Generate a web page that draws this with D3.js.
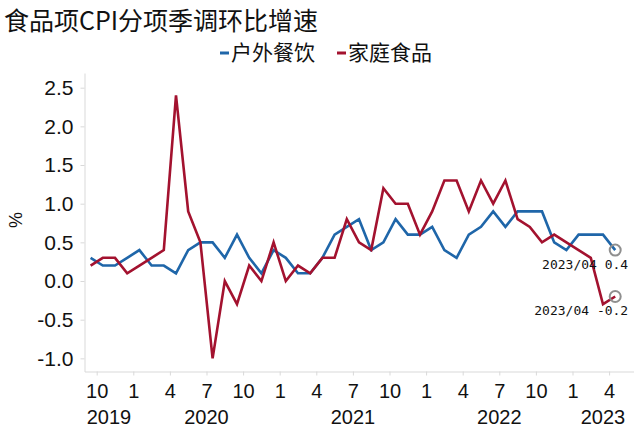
<!DOCTYPE html>
<html>
<head>
<meta charset="utf-8">
<script src="https://cdn.jsdelivr.net/npm/d3@7"></script>
<style>
  body { margin: 0; background: #fff; }
  svg { display: block; }
</style>
</head>
<body>
<svg id="chart" width="640" height="430"></svg>
<script>
// month categories (last one is an empty slot at the right end)
var months = [
  "2019-09","2019-10","2019-11","2019-12",
  "2020-01","2020-02","2020-03","2020-04","2020-05","2020-06","2020-07","2020-08","2020-09","2020-10","2020-11","2020-12",
  "2021-01","2021-02","2021-03","2021-04","2021-05","2021-06","2021-07","2021-08","2021-09","2021-10","2021-11","2021-12",
  "2022-01","2022-02","2022-03","2022-04","2022-05","2022-06","2022-07","2022-08","2022-09","2022-10","2022-11","2022-12",
  "2023-01","2023-02","2023-03","2023-04","2023-05"
];

// 户外餐饮
var dining = [0.3,0.2,0.2,0.3,0.4,0.2,0.2,0.1,0.4,0.5,0.5,0.3,0.6,0.3,0.1,0.4,0.3,0.1,0.1,0.3,0.6,0.7,
  0.8,0.4,0.5,0.8,0.6,0.6,0.7,0.4,0.3,0.6,0.7,0.9,0.7,0.9,0.9,0.9,0.5,0.4,0.6,0.6,0.6,0.4];
// 家庭食品
var home = [0.2,0.3,0.3,0.1,0.2,0.3,0.4,2.4,0.9,0.5,-1.0,0.0,-0.3,0.2,0.0,0.5,0.0,0.2,0.1,0.3,0.3,0.8,
  0.5,0.4,1.2,1.0,1.0,0.6,0.9,1.3,1.3,0.9,1.3,1.0,1.3,0.8,0.7,0.5,0.6,0.5,0.4,0.3,-0.3,-0.2];

var yTicks = [-1.0,-0.5,0.0,0.5,1.0,1.5,2.0,2.5];
var tickMonths = [1,4,7,10];
var years = ["2019","2020","2021","2022","2023"];

var series = [
  { name: "户外餐饮", values: dining, color: "#1f66a9" },
  { name: "家庭食品", values: home, color: "#a3122f" }
];

var svg = d3.select("#chart");
var plotLeft = 84.5, plotRight = 633.5, plotTop = 73, plotBottom = 371.5;

// index scale: category i spans [x(i), x(i+1)]
var x = d3.scaleLinear().domain([0, months.length]).range([plotLeft, plotRight]);
var y = d3.scaleLinear().domain([-1.17, 2.69]).range([plotBottom, plotTop]);

svg.append("text")
  .attr("x", 4).attr("y", 30)
  .attr("font-family", "Noto Sans CJK SC")
  .attr("font-size", 25)
  .attr("fill", "#111")
  .text("食品项CPI分项季调环比增速");

// legend
var lg = svg.append("g").attr("transform", "translate(220,53)");
var lx = 0;
series.forEach(function(s, i) {
  lg.append("line")
    .attr("x1", lx).attr("x2", lx + 9).attr("y1", 0).attr("y2", 0)
    .attr("stroke", s.color).attr("stroke-width", 3);
  lg.append("text")
    .attr("x", lx + 11).attr("y", 0).attr("dy", "0.35em")
    .attr("font-family", "Noto Sans CJK SC")
    .attr("font-size", 21)
    .attr("fill", "#111")
    .text(s.name);
  lx += 117;
});

// y axis
var yAxis = svg.append("g")
  .attr("transform", "translate(" + plotLeft + ",0)")
  .call(d3.axisLeft(y).tickValues(yTicks).tickSize(4).tickSizeOuter(0).tickPadding(7)
    .tickFormat(function(d) { return d.toFixed(1); }));
yAxis.selectAll("path, line").attr("stroke", "#d9d9d9");
yAxis.selectAll("text").attr("font-family", "Liberation Sans").attr("font-size", 21).attr("fill", "#111");

svg.append("text")
  .attr("transform", "translate(16,220) rotate(-90)")
  .attr("text-anchor", "middle").attr("dy", "0.35em")
  .attr("font-family", "Liberation Sans").attr("font-size", 18).attr("fill", "#111")
  .text("%");

// x axis
var tickIdx = months.map(function(m, i) { return i; }).filter(function(i) {
  return tickMonths.indexOf(+months[i].slice(5)) >= 0;
});
var xAxis = svg.append("g")
  .attr("transform", "translate(0," + plotBottom + ")")
  .call(d3.axisBottom(x).tickValues(tickIdx).tickSize(4).tickSizeOuter(0).tickPadding(8)
    .tickFormat(function(i) { return +months[i].slice(5); }));
xAxis.selectAll("path, line").attr("stroke", "#d9d9d9");
xAxis.selectAll("text").attr("font-family", "Liberation Sans").attr("font-size", 20).attr("fill", "#111");

years.forEach(function(yr) {
  var idx = months.map(function(m, i) { return i; }).filter(function(i) { return months[i].slice(0, 4) === yr; });
  var cx = (x(idx[0]) + x(idx[idx.length - 1] + 1)) / 2;
  svg.append("text")
    .attr("x", cx).attr("y", 424)
    .attr("text-anchor", "middle")
    .attr("font-family", "Liberation Sans").attr("font-size", 20).attr("fill", "#111")
    .text(yr);
});

// lines
var line = d3.line()
  .x(function(d, i) { return x(i + 0.5); })
  .y(function(d) { return y(d); });

series.forEach(function(s) {
  svg.append("path")
    .datum(s.values)
    .attr("fill", "none")
    .attr("stroke", s.color)
    .attr("stroke-width", 2.6)
    .attr("stroke-linejoin", "miter")
    .attr("d", line);
});

// last-point markers and labels
series.forEach(function(s) {
  var n = s.values.length - 1;
  var px = x(n + 0.5), py = y(s.values[n]);
  svg.append("circle")
    .attr("cx", px).attr("cy", py).attr("r", 5.5)
    .attr("fill", "none").attr("stroke", "#8f8f8f").attr("stroke-width", 2);
  svg.append("text")
    .attr("x", px + 13).attr("y", py + 14).attr("dy", "0.35em")
    .attr("text-anchor", "end")
    .attr("font-family", "DejaVu Sans Mono").attr("font-size", 13).attr("fill", "#111")
    .text(months[n].replace("-", "/") + " " + s.values[n].toFixed(1));
});
</script>
</body>
</html>
